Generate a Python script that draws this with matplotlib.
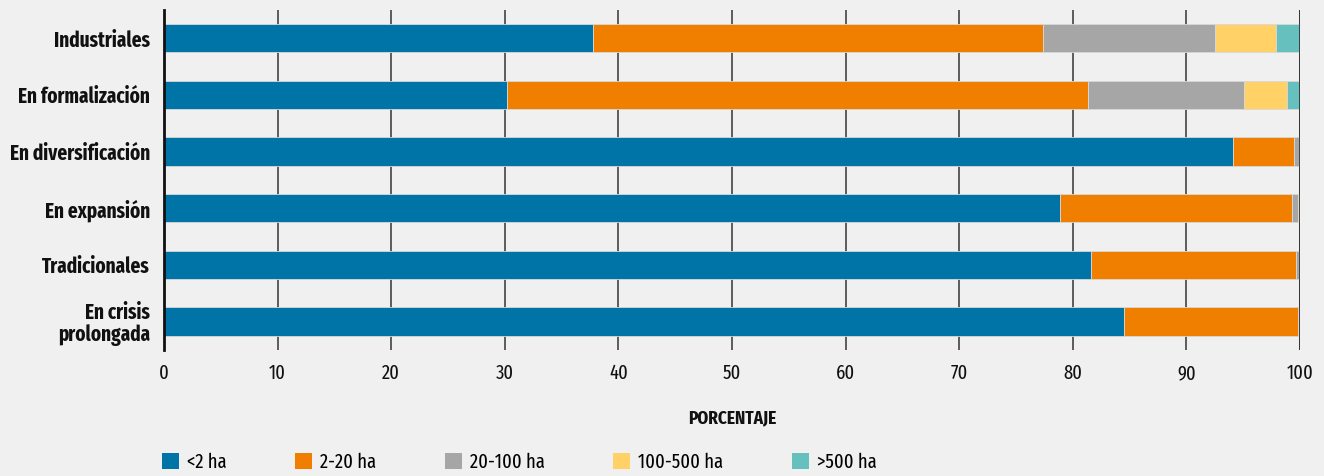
import matplotlib
matplotlib.use("Agg")
import matplotlib.pyplot as plt
from matplotlib.patches import Patch
import numpy as np

plt.rcParams['font.family'] = ['Fira Sans Extra Condensed', 'Fira Sans Condensed', 'DejaVu Sans']

# Farm types (top to bottom) and share of farms by size class, in percent
categories = ["Industriales", "En formalización", "En diversificación",
              "En expansión", "Tradicionales", "En crisis\nprolongada"]
size_classes = ["<2 ha", "2-20 ha", "20-100 ha", "100-500 ha", ">500 ha"]

lt_2 = [37.8, 30.2, 94.1, 78.9, 81.6, 84.5]
ha_2_20 = [39.6, 51.1, 5.4, 20.4, 18.05, 15.3]
ha_20_100 = [15.1, 13.8, 0.45, 0.5, 0.3, 0.2]
ha_100_500 = [5.35, 3.75, 0.0, 0.2, 0.0, 0.0]
gt_500 = [2.15, 1.15, 0.0, 0.0, 0.0, 0.0]

colors = ["#0073a7", "#f07f00", "#a6a6a6", "#ffd166", "#66c1be"]
bg = "#f0f0f0"
ink = "#111111"

fig = plt.figure(figsize=(13.24, 4.76), dpi=100, facecolor=bg)
ax = fig.add_axes([0.1239, 0.265, 0.858, 0.714], facecolor=bg)

y = np.arange(len(categories))
left = np.zeros(len(categories))
for vals, col in zip([lt_2, ha_2_20, ha_20_100, ha_100_500, gt_500], colors):
    vals = np.array(vals)
    ax.barh(y, vals, left=left, height=0.5, color=col,
            edgecolor="#d8d8d8", linewidth=0.6, zorder=2)
    left += vals

ax.set_xlim(0, 100)
ax.set_ylim(len(categories) - 0.5, -0.5)
ax.set_xticks(np.arange(0, 101, 10))
ax.set_yticks(y)
ax.set_yticklabels(categories, fontsize=15, fontweight="bold", color=ink,
                   linespacing=1.05)
ax.tick_params(axis="x", length=0, pad=10, labelsize=14.5, colors=ink)
ax.tick_params(axis="y", length=0, pad=10)

ax.grid(axis="x", color="#333333", linewidth=1.1, zorder=0)
ax.axvline(100, color="#333333", linewidth=2, zorder=3)
for side in ["top", "right", "bottom"]:
    ax.spines[side].set_visible(False)
ax.spines["left"].set_color(ink)
ax.spines["left"].set_linewidth(2)
ax.spines["left"].set_zorder(4)

ax.set_xlabel("PORCENTAJE", fontsize=13.5, fontweight="bold", labelpad=19,
              color=ink)

handles = [Patch(facecolor=c, edgecolor="none") for c in colors]
fig.legend(handles, size_classes, loc="lower left", bbox_to_anchor=(0.1224, 0.008),
           ncol=5, frameon=False, fontsize=14.5, handlelength=0.84,
           handleheight=0.84, handletextpad=0.4, columnspacing=3.4,
           borderpad=0, borderaxespad=0)

fig.savefig("out.png", dpi=100, facecolor=bg)
